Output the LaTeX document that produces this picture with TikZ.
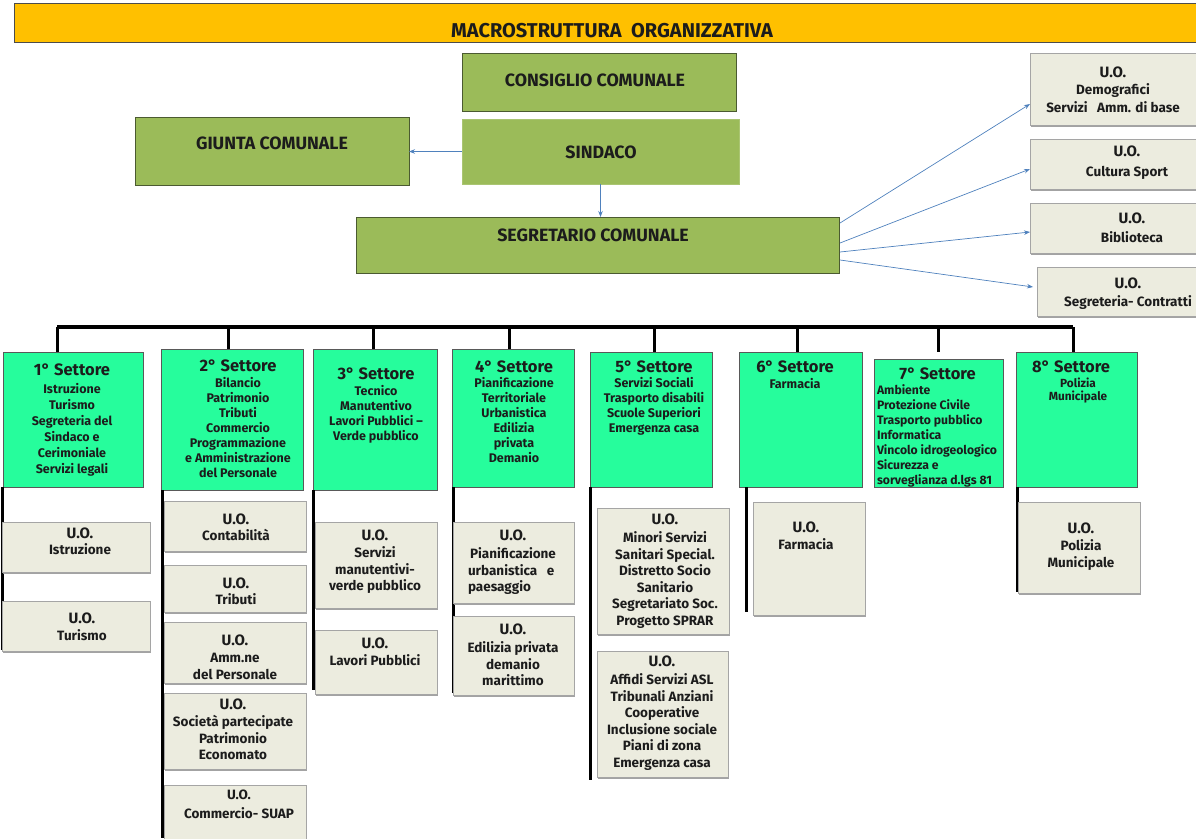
\documentclass[tikz,border=0pt]{standalone}
\usepackage{fontspec}
\setmainfont{Fira Sans}
\usetikzlibrary{arrows.meta,fit,calc,shadows}
\definecolor{hdr}{HTML}{FFC000}
\definecolor{olive}{HTML}{9BBB59}
\definecolor{olivedk}{HTML}{4B5A31}
\definecolor{mint}{RGB}{38,253,156}
\definecolor{uofill}{HTML}{ECECDF}
\definecolor{uoedge}{HTML}{A5A5A5}
\definecolor{arrblue}{HTML}{4F81BD}
\definecolor{txt}{HTML}{1C1C1C}
\newcommand\sttl[1]{{\fontsize{16.5}{15}\selectfont #1}}
\newcommand\uoh{{\fontsize{15}{16.5}\selectfont U.O.}}
\begin{document}
\begin{tikzpicture}[x=1pt,y=-1pt,
  every node/.style={inner sep=0pt, outer sep=0pt, font=\bfseries, text=txt},
  header/.style={fill=hdr, draw=black!70, line width=0.9pt},
  topbox/.style={fill=olive, draw=olivedk, line width=1pt},
  setbox/.style={fill=mint, draw=black!65, line width=0.8pt},
  uobox/.style={fill=uofill, draw=uoedge, line width=0.9pt,
    drop shadow={shadow xshift=1.2pt, shadow yshift=-1.8pt, fill=black!40, opacity=0.9}},
  arr/.style={draw=arrblue, line width=0.7pt, -{Stealth[length=6pt,width=4.5pt]}},
  bus/.style={line width=3.6pt, draw=black},
  drop/.style={line width=3pt, draw=black},
  toptxt/.style={font=\bfseries\fontsize{17.8}{19}\selectfont},
  stxt/.style={align=center, anchor=north, font=\bfseries\fontsize{12.5}{15}\selectfont},
  utxt/.style={align=center, anchor=north, font=\bfseries\fontsize{13.5}{16.5}\selectfont},
  rtxt/.style={align=center, anchor=north, font=\bfseries\fontsize{13.5}{18}\selectfont}
]
\useasboundingbox (0,0) rectangle (1196,838);

% header
\node[header, fit={(14,3) (1210,42)}] (hdr) {};
\node[font=\bfseries\fontsize{20}{20}\selectfont] (title) at (612,31) {MACROSTRUTTURA\ \ ORGANIZZATIVA};

% top boxes
\node[topbox, fit={(462,53) (736,111)}] (cons) {};
\node[toptxt] (consT) at (595,80) {CONSIGLIO COMUNALE};
\node[topbox, draw=olive!85!white, fit={(462,119) (739,184)}] (sind) {};
\node[toptxt] (sindT) at (601,152) {SINDACO};
\node[topbox, fit={(135,117) (409,185)}] (giunta) {};
\node[toptxt] (giuntaT) at (272,143) {GIUNTA COMUNALE};
\node[topbox, fit={(356,217) (839,273)}] (segr) {};
\node[toptxt] (segrT) at (593,235.5) {SEGRETARIO COMUNALE};

\draw[arr] (sind.west) -- (sind.west -| giunta.east);
\draw[arr] (sind.south) -- (sind.south |- segr.north);

% right U.O. boxes
\node[uobox, fit={(1030,53) (1210,125)}] (uoD) {};
\node[rtxt] (uoDT) at (1113,66.8) {\uoh\\[-1pt] Demografici\\ Servizi\ \ \ Amm. di base};
\node[uobox, fit={(1030,139) (1210,189)}] (uoC) {};
\node[rtxt] (uoCT) at (1127,146.3) {\uoh\\[2pt] Cultura Sport};
\node[uobox, fit={(1030,203) (1210,253)}] (uoB) {};
\node[rtxt] (uoBT) at (1132,212.8) {\uoh\\[1pt] Biblioteca};
\node[uobox, fit={(1037,267) (1210,316)}] (uoS) {};
\node[rtxt] (uoST) at (1128,277.8) {\uoh\\[0pt] Segreteria- Contratti};

\draw[arr] ($(segr.north east)+(1,6)$) -- ($(uoD.south west)+(0,-21)$);
\draw[arr] ($(segr.north east)+(1,26)$) -- ($(uoC.south west)+(0,-20)$);
\draw[arr] ($(segr.north east)+(1,35)$) -- ($(uoB.south west)+(0,-21)$);
\draw[arr] ($(segr.north east)+(1,43)$) -- ($(uoS.west)+(-4,-4.5)$);

% settori
\node[setbox, fit={(3,352) (143,487)}] (s1) {};
\node[setbox, fit={(161,349) (303,490)}] (s2) {};
\node[setbox, fit={(313,349) (437,490)}] (s3) {};
\node[setbox, fit={(452,349) (574,487)}] (s4) {};
\node[setbox, fit={(590,352) (712,487)}] (s5) {};
\node[setbox, fit={(739,352) (862,487)}] (s6) {};
\node[setbox, fit={(874,359) (1003,487)}] (s7) {};
\node[setbox, fit={(1016,352) (1137,487)}] (s8) {};

% bus and drops
\coordinate (busL) at (57,327);
\coordinate (busR) at (1073,327);
\draw[bus] (busL) -- (busR);
\coordinate (d1) at (57,327);
\coordinate (d2) at (228,327);
\coordinate (d3) at (373,327);
\coordinate (d4) at (509,327);
\coordinate (d5) at (654,327);
\coordinate (d6) at (797,327);
\coordinate (d7) at (938,327);
\coordinate (d8) at (1073,327);
\draw[drop] (d1) -- (d1 |- s1.north);
\draw[drop] (d2) -- (d2 |- s2.north);
\draw[drop] (d3) -- (d3 |- s3.north);
\draw[drop] (d4) -- (d4 |- s4.north);
\draw[drop] (d5) -- (d5 |- s5.north);
\draw[drop] (d6) -- (d6 |- s6.north);
\draw[drop, shorten >=7pt] (d7) -- (d7 |- s7.north);
\draw[drop] (d8) -- (d8 |- s8.north);

% settore texts
\node[stxt, font=\bfseries\fontsize{12.5}{16}\selectfont] (s1T) at (72,363.3) {\sttl{1° Settore}\\[2.5pt] Istruzione\\ Turismo\\ Segreteria del\\ Sindaco e\\ Cerimoniale\\ Servizi legali};
\node[stxt] (s2T) at (238,359.3) {\sttl{2° Settore}\\[1.5pt] Bilancio\\ Patrimonio\\ Tributi\\ Commercio\\ Programmazione\\ e Amministrazione\\ del Personale};
\node[stxt] (s3T) at (376,367.3) {\sttl{3° Settore}\\[1.5pt] Tecnico\\ Manutentivo\\ Lavori Pubblici –\\ Verde pubblico};
\node[stxt] (s4T) at (514,360.3) {\sttl{4° Settore}\\[0.5pt] Pianificazione\\ Territoriale\\ Urbanistica\\ Edilizia\\ privata\\ Demanio};
\node[stxt] (s5T) at (654,360.3) {\sttl{5° Settore}\\[0.5pt] Servizi Sociali\\ Trasporto disabili\\ Scuole Superiori\\ Emergenza casa};
\node[stxt] (s6T) at (795,360.3) {\sttl{6° Settore}\\[1.5pt] Farmacia};
\node[stxt, align=left, anchor=north west, font=\bfseries\fontsize{12.2}{15}\selectfont] (s7T) at (877,367.3) {\makebox[121pt][c]{\sttl{7° Settore}}\\[0.5pt] Ambiente\\ Protezione Civile\\ Trasporto pubblico\\ Informatica\\ Vincolo idrogeologico\\ Sicurezza e\\ sorveglianza d.lgs 81};
\node[stxt, font=\bfseries\fontsize{11.8}{13}\selectfont] (s8T) at (1078,360.3) {\sttl{8° Settore}\hspace*{14pt}\\[2pt] Polizia\\ Municipale};

% vertical lines under settori
\draw[drop] ($(s1.south west)+(-1,0)$) -- ++(0,163);
\draw[drop] ($(s2.south west)+(1,0)$) -- ++(0,348);
\draw[drop] ($(s3.south west)+(0,0)$) -- ++(0,200);
\draw[drop] ($(s4.south west)+(1,0)$) -- ++(0,206);
\draw[drop] ($(s5.south west)+(0,0)$) -- ++(0,293);
\draw[drop] ($(s6.south west)+(7,0)$) -- ++(0,125);
\draw[drop] ($(s8.south west)+(1,0)$) -- ++(0,105);

% U.O. boxes
\node[uobox, fit={(2,522) (150,572)}] (u11) {};
\node[utxt] (u11T) at (80,527.8) {\uoh\\ Istruzione};
\node[uobox, fit={(2,601) (150,651)}] (u12) {};
\node[utxt] (u12T) at (82,612.8) {\uoh\\[1pt] Turismo};

\node[uobox, fit={(164,501) (306,551)}] (u21) {};
\node[utxt] (u21T) at (236,513.8) {\uoh\\ Contabilità};
\node[uobox, fit={(164,565) (306,612)}] (u22) {};
\node[utxt] (u22T) at (236,577.8) {\uoh\\ Tributi};
\node[uobox, fit={(164,622) (306,683)}] (u23) {};
\node[utxt] (u23T) at (235,634.8) {\uoh\\[1pt] Amm.ne\\ del Personale};
\node[uobox, fit={(164,693) (306,769)}] (u24) {};
\node[utxt] (u24T) at (233,698.8) {\uoh\\[1pt] Società partecipate\\ Patrimonio\\ Economato};
\node[uobox, fit={(164,785) (306,850)}] (u25) {};
\node[utxt] (u25T) at (239,790.3) {{\fontsize{13.5}{16.5}\selectfont U.O.}\\[2.5pt] Commercio- SUAP};

\node[uobox, fit={(315,522) (437,608)}] (u31) {};
\node[utxt] (u31T) at (375,529.8) {\uoh\\[1pt] Servizi\\ manutentivi-\\ verde pubblico};
\node[uobox, fit={(315,630) (437,694)}] (u32) {};
\node[utxt] (u32T) at (375,637.8) {\uoh\\[1pt] Lavori Pubblici};

\node[uobox, fit={(453,522) (574,603)}] (u41) {};
\node[utxt] (u41T) at (513,529.8) {\uoh\\[2pt] Pianificazione\\ \makebox[90pt][l]{urbanistica\ \ \ e}\\ \makebox[90pt][l]{paesaggio}};
\node[uobox, fit={(453,616) (574,695)}] (u42) {};
\node[utxt] (u42T) at (513,623.8) {\uoh\\[2pt] Edilizia privata\\ demanio\\ marittimo};

\node[uobox, fit={(597,508) (729,634)}] (u51) {};
\node[utxt] (u51T) at (665,513.8) {\uoh\\[2pt] Minori Servizi\\ Sanitari Special.\\ Distretto Socio\\ Sanitario\\ Segretariato Soc.\\ Progetto SPRAR};
\node[uobox, fit={(597,651) (728,777)}] (u52) {};
\node[utxt] (u52T) at (662,655.8) {\uoh\\[2pt] Affidi Servizi ASL\\ Tribunali Anziani\\ Cooperative\\ Inclusione sociale\\ Piani di zona\\ Emergenza casa};

\node[uobox, fit={(753,502) (865,615)}] (u61) {};
\node[utxt] (u61T) at (806,521.8) {\uoh\\[1pt] Farmacia};

\node[uobox, fit={(1018,502) (1140,593)}] (u81) {};
\node[utxt] (u81T) at (1081,522.8) {\uoh\\[1pt] Polizia\\ Municipale};
\end{tikzpicture}
\end{document}
